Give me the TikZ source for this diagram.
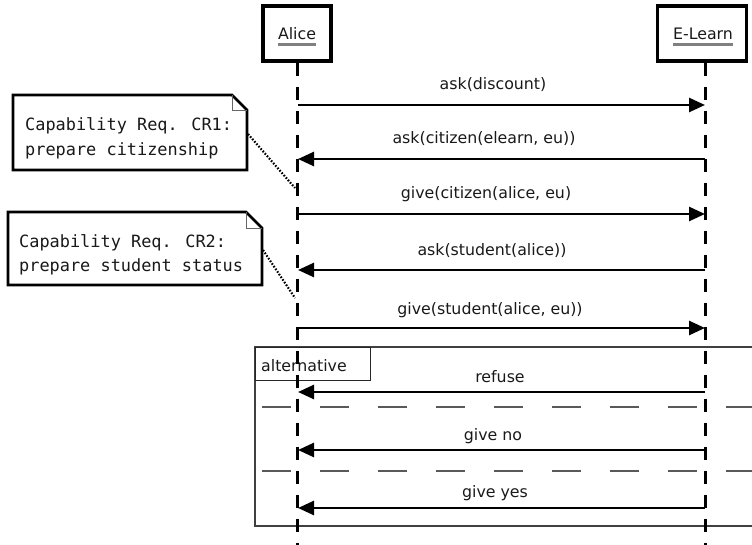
\documentclass[tikz,border=0pt]{standalone}
\usepackage{fontspec}
\setmainfont{DejaVu Sans}
\newfontfamily\notefont{DejaVu Sans Mono}
\usetikzlibrary{arrows.meta}
\begin{document}
\begin{tikzpicture}[x=1pt,y=-1pt,
  every node/.style={inner sep=0pt, text=black!90},
  lbl/.style={font=\fontsize{15.8}{18}\selectfont, anchor=base},
  actor/.style={draw, line width=3.2pt, minimum height=55pt, font=\fontsize{15.8}{18}\selectfont},
  lifeline/.style={line width=3pt, dash pattern=on 13pt off 11pt},
  msg/.style={line width=2.6pt, -{Triangle[length=16pt,width=14pt]}},
  notebox/.style={line width=2.6pt},
  fold/.style={line width=0.8pt, black!60},
  anchorline/.style={line width=2.2pt, dash pattern=on 1.6pt off 1.6pt},
  frameline/.style={line width=1.1pt, black!75},
  sepline/.style={line width=1.2pt, black!65, dash pattern=on 29pt off 29pt},
  notetext/.style={font=\notefont\fontsize{16.9}{23}\selectfont, anchor=base west, align=left}
]
\useasboundingbox (0,0) rectangle (752,545);
\clip (0,0) rectangle (752,545);

% participants
\node[actor, minimum width=68pt] (alice) at (297,33.5) {};
\node[lbl] (alicet) at (297,40) {Alice};
\draw[black!50, line width=2.2pt] (alicet.base west)++(0,4.5) -- (alicet.base east |- 0,44.5);
\node[actor, minimum width=89pt] (elearn) at (702,33.5) {};
\node[lbl] (elearnt) at (703,40) {E-Learn};
\draw[black!50, line width=2.2pt] (elearnt.base west)++(0,4.5) -- (elearnt.base east |- 0,44.5);

% lifeline ends
\coordinate (aliceEnd) at (297,548);
\coordinate (elearnEnd) at (705,548);

% alternative frame
\coordinate (frTL) at (255,347);
\coordinate (frBR) at (770,526);
\draw[frameline] (frTL) rectangle (frBR);
\node[draw=black!85, line width=1.3pt, minimum width=115pt, minimum height=33pt, anchor=north west] (altbox) at (frTL) {};
\node[font=\fontsize{15.8}{18}\selectfont, anchor=base west] (altlabel) at (261,371) {alternative};
\coordinate (sepA) at (262,407);
\coordinate (sepAe) at (770,407);
\coordinate (sepB) at (262,471);
\coordinate (sepBe) at (770,471);
\draw[sepline] (sepA) -- (sepAe);
\draw[sepline] (sepB) -- (sepBe);

% lifelines
\draw[lifeline] (alice.south) -- (aliceEnd);
\draw[lifeline] (elearn.south -| elearnEnd) -- (elearnEnd);

% message end points
\foreach \n/\y in {1/105,2/159,3/214,4/270,5/328,6/392,7/450,8/508}{
  \coordinate (a\n) at (298,\y);
  \coordinate (e\n) at (705,\y);
}

% messages
\draw[msg] (a1) -- (e1);
\node[lbl] (m1) at (493,90) {ask(discount)};
\draw[msg] (e2) -- (a2);
\node[lbl] (m2) at (484,144) {ask(citizen(elearn, eu))};
\draw[msg] (a3) -- (e3);
\node[lbl] (m3) at (486,199) {give(citizen(alice, eu)};
\draw[msg] (e4) -- (a4);
\node[lbl] (m4) at (492,256) {ask(student(alice))};
\draw[msg] (a5) -- (e5);
\node[lbl] (m5) at (490,314) {give(student(alice, eu))};
\draw[msg] (e6) -- (a6);
\node[lbl] (m6) at (500,382) {refuse};
\draw[msg] (e7) -- (a7);
\node[lbl] (m7) at (493,440) {give no};
\draw[msg] (e8) -- (a8);
\node[lbl] (m8) at (495,497) {give yes};

% note 1
\coordinate (n1a) at (13,95);
\coordinate (n1b) at (247,170);
\draw[notebox, fill=white] (n1a) -- (232,95) -- (247,110) -- (n1b) -- (13,170) -- cycle;
\draw[fold] (232,95) -- (232,110) -- (247,110);
\node[notetext] (note1) at (25,131) {Capability Req. CR1:};
\node[notetext] at (25,156) {prepare citizenship};
\coordinate (c1) at (248,134);
\coordinate (c1e) at (295,188);
\draw[anchorline] (c1) -- (c1e);

% note 2
\coordinate (n2a) at (8,212);
\coordinate (n2b) at (262,285);
\draw[notebox, fill=white] (n2a) -- (246,212) -- (262,228) -- (n2b) -- (8,285) -- cycle;
\draw[fold] (246,212) -- (246,228) -- (262,228);
\node[notetext] (note2) at (19,248) {Capability Req. CR2:};
\node[notetext] at (19,272) {prepare student status};
\coordinate (c2) at (263,250);
\coordinate (c2e) at (295,298);
\draw[anchorline] (c2) -- (c2e);
\end{tikzpicture}
\end{document}
